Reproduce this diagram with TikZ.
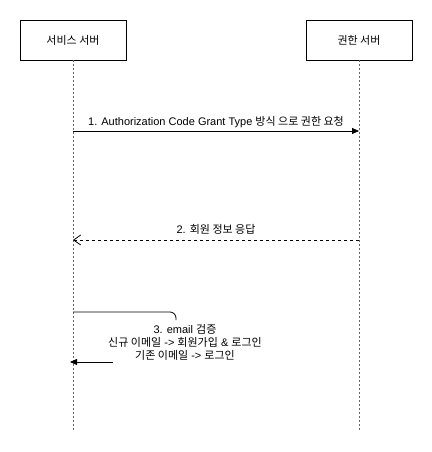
\documentclass[tikz,border=0pt]{standalone}
\usepackage{fontspec}
\setmainfont{Liberation Sans}
\newfontfamily\kr{Noto Sans CJK KR}
\usetikzlibrary{positioning}
\usetikzlibrary{arrows.meta}
\usetikzlibrary{calc}
\tikzset{>={Triangle[length=7pt,width=6pt]}}
\tikzstyle{actor}=[black,draw=black,line width=0.8pt,shape=rectangle,fill=white,minimum width=106pt,minimum height=40pt,font=\fontsize{11}{13}\selectfont]
\tikzstyle{lifeline}=[draw=black!60,line width=1pt,dash pattern=on 2pt off 2pt]
\tikzstyle{msg}=[->,line width=0.8pt,color=black]
\tikzstyle{reply}=[-{Straight Barb[length=7pt,width=10pt]},line width=0.8pt,color=black,dash pattern=on 3pt off 3pt]
\tikzstyle{msglabel}=[font=\fontsize{11}{13}\selectfont,inner sep=2pt]

\begin{document}
\begin{tikzpicture}[x=1pt,y=-1pt]
	\useasboundingbox (0,0) rectangle (431,452);

	% Actors
	\node[actor] (svc) at (73, 40) {\kr 서비스 서버};
	\node[actor] (auth) at (359, 40) {\kr 권한 서버};
	\coordinate (svcend) at (73, 430);
	\coordinate (authend) at (359, 430);
	\draw[lifeline] (svc) -- (svcend);
	\draw[lifeline] (auth) -- (authend);

	% 1. request
	\coordinate (reqs) at (73, 131);
	\coordinate (reqe) at (359, 131);
	\draw[msg] (reqs) -- node[msglabel, above = 1pt] (reqlabel) {1. Authorization Code Grant Type {\kr 방식 으로 권한 요청}} (reqe);

	% 2. reply
	\coordinate (reps) at (359, 240);
	\coordinate (repe) at (73, 240);
	\draw[reply] (reps) -- node[msglabel, above = 3pt] (replabel) {2. {\kr 회원 정보 응답}} (repe);

	% 3. self message
	\coordinate (selfs) at (73, 312);
	\coordinate (selfc) at (176, 320);
	\draw[line width=0.8pt, rounded corners=6pt] (selfs) -| (selfc);
	\node[msglabel, align=center] (selflabel) at (185, 342) {3. email {\kr 검증}\\{\kr 신규 이메일} -> {\kr 회원가입} \& {\kr 로그인}\\{\kr 기존 이메일} -> {\kr 로그인}};
	\coordinate (backs) at (113, 362);
	\coordinate (backe) at (70, 362);
	\draw[msg] (backs) -- (backe);
\end{tikzpicture}
\end{document}
